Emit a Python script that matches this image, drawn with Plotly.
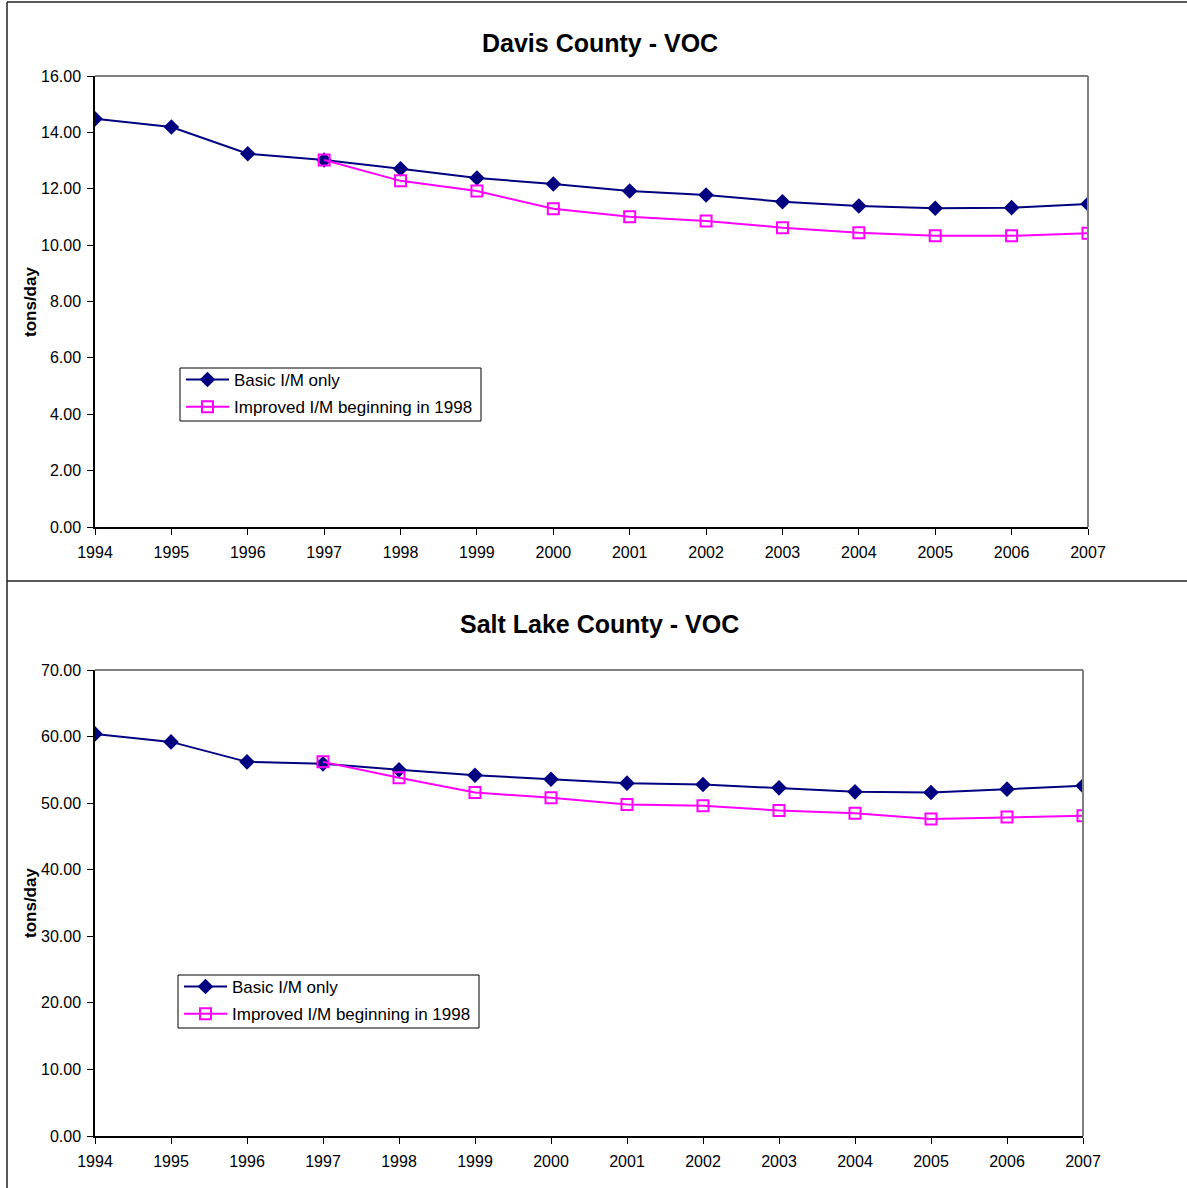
import plotly.graph_objects as go

# Emission inventory, on-road VOC (tons/day)
years = [1994, 1995, 1996, 1997, 1998, 1999, 2000, 2001, 2002, 2003, 2004, 2005, 2006, 2007]
improved_years = [1997, 1998, 1999, 2000, 2001, 2002, 2003, 2004, 2005, 2006, 2007]

davis_basic = [14.48, 14.19, 13.24, 13.02, 12.71, 12.38, 12.17, 11.92, 11.78, 11.54, 11.39, 11.31, 11.33, 11.46]
davis_improved = [13.02, 12.28, 11.92, 11.29, 11.01, 10.86, 10.62, 10.44, 10.33, 10.33, 10.42]

slc_basic = [60.4, 59.2, 56.2, 55.9, 55.0, 54.2, 53.6, 53.0, 52.8, 52.3, 51.7, 51.6, 52.1, 52.6]
slc_improved = [56.2, 53.8, 51.6, 50.8, 49.8, 49.6, 48.9, 48.5, 47.6, 47.9, 48.1]

y_ticks_top = [0, 2, 4, 6, 8, 10, 12, 14, 16]
y_ticks_bottom = [0, 10, 20, 30, 40, 50, 60, 70]

series_names = ["Basic I/M only", "Improved I/M beginning in 1998"]

W, H = 1187, 1188
NAVY = "#000080"
MAGENTA = "#FF00FF"
FONT = "Liberation Sans, Arial, sans-serif"


def px_x(p):
    return p / W


def px_y(p):
    return 1 - p / H


fig = go.Figure()

panels = [
    dict(xa="x", ya="y", legend="legend", basic=davis_basic, improved=davis_improved),
    dict(xa="x2", ya="y2", legend="legend2", basic=slc_basic, improved=slc_improved),
]

for p in panels:
    fig.add_trace(go.Scatter(
        x=years, y=p["basic"], name=series_names[0], mode="lines+markers",
        xaxis=p["xa"], yaxis=p["ya"], legend=p["legend"], legendgroup="basic",
        line=dict(color=NAVY, width=2),
        marker=dict(symbol="diamond", size=12, color=NAVY),
    ))
    fig.add_trace(go.Scatter(
        x=improved_years, y=p["improved"], name=series_names[1], mode="lines+markers",
        xaxis=p["xa"], yaxis=p["ya"], legend=p["legend"], legendgroup="improved",
        line=dict(color=MAGENTA, width=2),
        marker=dict(symbol="square-open", size=11, color=MAGENTA, line=dict(width=2)),
    ))

axis_common = dict(
    showgrid=False, zeroline=False, showline=True, linecolor="black", linewidth=1.5,
    ticks="outside", ticklen=6, tickcolor="black", tickwidth=1, automargin=False,
    tickfont=dict(family=FONT, size=16, color="black"),
)

legend_common = dict(
    xanchor="left", yanchor="top", borderwidth=0, bgcolor="rgba(0,0,0,0)",
    font=dict(family=FONT, size=17, color="black"), itemwidth=43, tracegroupgap=2,
)

fig.update_layout(
    width=W, height=H,
    margin=dict(l=0, r=0, t=0, b=0, autoexpand=False),
    paper_bgcolor="white", plot_bgcolor="white",
    font=dict(family=FONT, color="black"),
    xaxis=dict(domain=[px_x(95), px_x(1088)], range=[1994, 2007], tickmode="array",
               tickvals=years, anchor="y", ticklabelstandoff=4, **axis_common),
    yaxis=dict(domain=[px_y(527), px_y(76)], range=[0, 16], tickmode="array",
               tickvals=y_ticks_top, tickformat=".2f", anchor="x", ticklabelstandoff=3,
               **axis_common),
    xaxis2=dict(domain=[px_x(95), px_x(1083)], range=[1994, 2007], tickmode="array",
                tickvals=years, anchor="y2", ticklabelstandoff=4, **axis_common),
    yaxis2=dict(domain=[px_y(1136), px_y(670)], range=[0, 70], tickmode="array",
                tickvals=y_ticks_bottom, tickformat=".2f", anchor="x2", ticklabelstandoff=3,
                **axis_common),
    legend=dict(x=px_x(181), y=px_y(362), **legend_common),
    legend2=dict(x=px_x(179), y=px_y(969), **legend_common),
    showlegend=True,
)

# legend boxes
for x0, y0, x1, y1 in [(180, 368, 481, 421), (178, 975, 479, 1028)]:
    fig.add_shape(type="rect", xref="paper", yref="paper",
                  x0=px_x(x0), x1=px_x(x1), y0=px_y(y1), y1=px_y(y0),
                  line=dict(color="black", width=1), fillcolor="white", layer="above")

# gray top/right frame of each plot area
for xr, yr in [("x domain", "y domain"), ("x2 domain", "y2 domain")]:
    fig.add_shape(type="line", xref=xr, yref=yr, x0=0, x1=1, y0=1, y1=1,
                  line=dict(color="#808080", width=2))
    fig.add_shape(type="line", xref=xr, yref=yr, x0=1, x1=1, y0=0, y1=1,
                  line=dict(color="#808080", width=2))

# outer chart frames
frame = dict(color="#222222", width=1.5)
fig.add_shape(type="line", xref="paper", yref="paper", x0=px_x(7), x1=1, y0=px_y(2), y1=px_y(2), line=frame)
fig.add_shape(type="line", xref="paper", yref="paper", x0=px_x(7), x1=px_x(7), y0=0, y1=px_y(2), line=frame)
fig.add_shape(type="line", xref="paper", yref="paper", x0=px_x(7), x1=1, y0=px_y(581), y1=px_y(581), line=frame)

# chart titles
title_font = dict(family=FONT, size=25, color="black")
fig.add_annotation(text="<b>Davis County - VOC</b>", xref="paper", yref="paper",
                   x=px_x(600), y=px_y(43), xanchor="center", yanchor="middle",
                   showarrow=False, font=title_font)
fig.add_annotation(text="<b>Salt Lake County - VOC</b>", xref="paper", yref="paper",
                   x=px_x(600), y=px_y(624), xanchor="center", yanchor="middle",
                   showarrow=False, font=title_font)

# y-axis titles
ytitle_font = dict(family=FONT, size=17, color="black")
fig.add_annotation(text="<b>tons/day</b>", xref="paper", yref="paper",
                   x=px_x(30), y=px_y(302), xanchor="center", yanchor="middle",
                   showarrow=False, textangle=-90, font=ytitle_font)
fig.add_annotation(text="<b>tons/day</b>", xref="paper", yref="paper",
                   x=px_x(30), y=px_y(903), xanchor="center", yanchor="middle",
                   showarrow=False, textangle=-90, font=ytitle_font)

fig.write_html("out.html")
